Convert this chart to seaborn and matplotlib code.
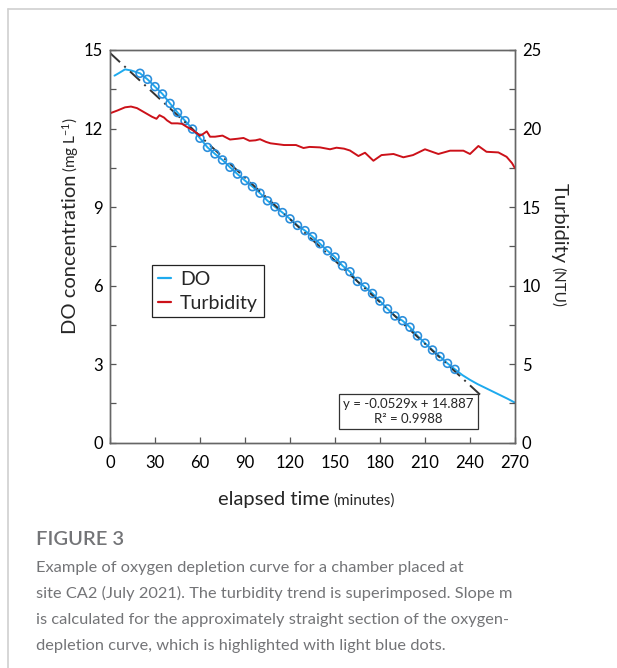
import numpy as np
import pandas as pd
import matplotlib
matplotlib.use('Agg')
import matplotlib.pyplot as plt
from matplotlib.lines import Line2D
from matplotlib.ticker import MultipleLocator
import seaborn as sns

#------------------------------------------
# DO curve (mg/L)
do_time=[3, 6, 10, 14, 20, 25, 30, 35, 40, 45, 50, 55, 60, 65, 70, 75, 80, 85, 90, 95,
         100, 105, 110, 115, 120, 125, 130, 135, 140, 145, 150, 155, 160, 165, 170, 175,
         180, 185, 190, 195, 200, 205, 210, 215, 220, 225, 230, 235, 240, 245, 250, 255,
         260, 265, 270]
do_vals=[14.02, 14.12, 14.26, 14.22, 14.11, 13.88, 13.60, 13.32, 12.96, 12.61, 12.30, 11.98,
         11.63, 11.28, 11.03, 10.80, 10.52, 10.26, 10.01, 9.78, 9.53, 9.24, 9.01, 8.79, 8.55,
         8.30, 8.10, 7.87, 7.60, 7.33, 7.09, 6.76, 6.53, 6.16, 5.95, 5.70, 5.41, 5.11, 4.84,
         4.66, 4.41, 4.08, 3.80, 3.54, 3.29, 3.03, 2.80, 2.58, 2.40, 2.24, 2.10, 1.96, 1.82,
         1.68, 1.53]
# straight section used for the fit (light blue dots)
fit_start=20
fit_end=230

# turbidity (NTU)
turb_time=[0, 5, 10, 14, 18, 24, 28, 31, 33, 36, 38, 41, 45, 48, 51, 55, 58, 60, 62, 64.5,
           66.7, 70, 75, 80, 85, 89, 93, 97, 100, 104, 107, 112, 116, 120, 124, 129, 133,
           140, 146.7, 151, 156, 160, 165.6, 170, 175.6, 181, 189, 195.6, 202, 210, 218.9,
           226.7, 235.6, 240, 245.6, 251, 258.9, 264.4, 268, 270]
turb_vals=[20.97, 21.15, 21.35, 21.40, 21.30, 20.97, 20.75, 20.62, 20.85, 20.70, 20.52, 20.33,
           20.33, 20.30, 20.12, 19.90, 19.70, 19.55, 19.65, 19.82, 19.48, 19.48, 19.55, 19.30,
           19.35, 19.40, 19.22, 19.25, 19.32, 19.15, 19.06, 19.00, 18.95, 18.95, 18.95, 18.76,
           18.83, 18.80, 18.68, 18.78, 18.72, 18.60, 18.25, 18.46, 17.95, 18.31, 18.38, 18.17,
           18.31, 18.68, 18.38, 18.59, 18.59, 18.38, 18.89, 18.52, 18.48, 18.20, 17.80, 17.47]

# linear fit reported in the figure
slope=-0.0529
intercept=14.887
r2=0.9988
fit_xmax=248

caption=['Example of oxygen depletion curve for a chamber placed at',
         'site CA2 (July 2021). The turbidity trend is superimposed. Slope m',
         'is calculated for the approximately straight section of the oxygen-',
         'depletion curve, which is highlighted with light blue dots.']

c_do='#1eaaee'
c_dot='#2b8fdc'
c_turb='#cc1119'
c_cap='#737477'

#####################################################
sns.set_style('ticks')
plt.rcParams['font.family']=['Lato', 'DejaVu Sans']
plt.rcParams['mathtext.default']='regular'

df_do=pd.DataFrame({'t': do_time, 'do': do_vals})
df_dot=df_do[(df_do['t']>=fit_start) & (df_do['t']<=fit_end)]
df_turb=pd.DataFrame({'t': turb_time, 'turb': turb_vals})

W, H=617, 668
fig=plt.figure(figsize=(W/100, H/100), dpi=100)
ax=fig.add_axes([110/W, 1-442.7/H, 405/W, 392.7/H])
ax2=ax.twinx()

#plot
sns.lineplot(data=df_do, x='t', y='do', ax=ax, color=c_do, lw=1.4, sort=True)
xf=np.array([0, fit_xmax])
ax.plot(xf, intercept+slope*xf, color='#333333', lw=1.4,
        ls=(0, (7, 3, 1, 3)), zorder=2.5)
sns.scatterplot(data=df_dot, x='t', y='do', ax=ax, marker='o', s=32,
                facecolor='none', edgecolor=c_dot, linewidth=1.2, zorder=3)
sns.lineplot(data=df_turb, x='t', y='turb', ax=ax2, color=c_turb, lw=1.4)

#axes
ax.set_xlim(0, 270)
ax.set_ylim(0, 15)
ax2.set_ylim(0, 25)
ax.xaxis.set_major_locator(MultipleLocator(30))
ax.yaxis.set_major_locator(MultipleLocator(3))
ax.yaxis.set_minor_locator(MultipleLocator(1.5))
ax2.yaxis.set_major_locator(MultipleLocator(5))
ax2.yaxis.set_minor_locator(MultipleLocator(2.5))
for a in (ax, ax2):
    a.set_xlabel('')
    a.set_ylabel('')
    a.tick_params(which='both', direction='in', length=4, width=0.9, color='#555555',
                  labelsize=12, labelcolor='black')
    for s in a.spines.values():
        s.set_visible(True)
        s.set_color('#666666')
        s.set_linewidth(1.0)
ax.tick_params(axis='x', pad=9)
ax.tick_params(axis='y', pad=5)
ax2.tick_params(axis='y', pad=5)

#equation box
ax.text(199, 1.19, f'y = {slope}x + {intercept}\nR² = {r2}', ha='center', va='center',
        fontsize=9.5, linespacing=1.3,
        bbox=dict(boxstyle='square,pad=0.3', fc='white', ec='#333333', lw=0.9))

#legend
handles=[Line2D([], [], color=c_do, lw=1.6), Line2D([], [], color=c_turb, lw=1.6)]
leg=ax2.legend(handles, ['DO', 'Turbidity'], loc='upper left', bbox_to_anchor=(0.103, 0.4525),
               borderaxespad=0, fontsize=14, handlelength=0.7, handletextpad=0.45,
               labelspacing=0.35, borderpad=0.3, fancybox=False, framealpha=1,
               edgecolor='#222222')
leg.get_frame().set_linewidth(0.9)

#axis labels (two sizes, second part placed right after the first)
def fx(px): return px/W
def fy(py): return 1-py/H
fig.canvas.draw()
rend=fig.canvas.get_renderer()

t1=fig.text(fx(218), fy(505), 'elapsed time', ha='left', va='baseline', fontsize=14.5)
bb=t1.get_window_extent(rend)
fig.text((bb.x1+4)/W, fy(505), '(minutes)', ha='left', va='baseline', fontsize=11)

t2=fig.text(fx(76), fy(334), 'DO concentration', rotation=90, rotation_mode='anchor',
            ha='left', va='baseline', fontsize=14.5)
bb=t2.get_window_extent(rend)
fig.text(fx(76), (bb.y1+3)/H, '(mg L$^{-1}$)', rotation=90, rotation_mode='anchor',
         ha='left', va='baseline', fontsize=11)

t3=fig.text(fx(554), fy(183), 'Turbidity', rotation=-90, rotation_mode='anchor',
            ha='left', va='baseline', fontsize=14.5)
bb=t3.get_window_extent(rend)
fig.text(fx(554), (bb.y0-4)/H, '(NTU)', rotation=-90, rotation_mode='anchor',
         ha='left', va='baseline', fontsize=11)

#caption
fig.text(fx(36), fy(545), 'FIGURE 3', ha='left', va='baseline', fontsize=14.5,
         color=c_cap, weight='semibold')
for i, line in enumerate(caption):
    fig.text(fx(36), fy(572+26*i), line, ha='left', va='baseline', fontsize=11.8,
             color=c_cap)

#page frame
fig.add_artist(Line2D([fx(8), 1], [fy(9), fy(9)], color='#d0d0d0', lw=1.2,
                      transform=fig.transFigure))
fig.add_artist(Line2D([fx(8), fx(8)], [fy(9), 0], color='#d0d0d0', lw=1.2,
                      transform=fig.transFigure))

plt.savefig('out.png', dpi=100)
plt.close()
